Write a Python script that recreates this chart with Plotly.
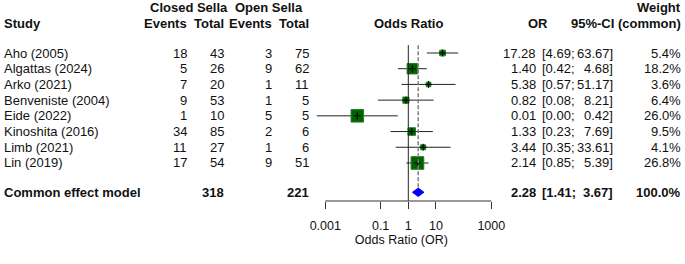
import numpy as np
import plotly.graph_objects as go

# ---------------- data ----------------
studies = ["Aho (2005)", "Algattas (2024)", "Arko (2021)", "Benveniste (2004)",
           "Eide (2022)", "Kinoshita (2016)", "Limb (2021)", "Lin (2019)"]
closed_events = [18, 5, 7, 9, 1, 34, 11, 17]
closed_total = [43, 26, 20, 53, 10, 85, 27, 54]
open_events = [3, 9, 1, 1, 5, 2, 1, 9]
open_total = [75, 62, 11, 5, 5, 6, 6, 51]
odds_ratio = [17.28, 1.40, 5.38, 0.82, 0.01435, 1.33, 3.44, 2.14]
ci_lower = [4.69, 0.42, 0.57, 0.08, 0.000494, 0.23, 0.35, 0.85]
ci_upper = [63.67, 4.68, 51.17, 8.21, 0.417, 7.69, 33.61, 5.39]
weights = [5.4, 18.2, 3.6, 6.4, 26.0, 9.5, 4.1, 26.8]

pooled_label = "Common effect model"
pooled_closed_total = 318
pooled_open_total = 221
pooled_or = 2.28
pooled_lower = 1.41
pooled_upper = 3.67
pooled_weight = 100.0
heterogeneity = "Heterogeneity: <i>I</i><sup>2</sup> = 65.6%, τ<sup>2</sup> = 1.3905, <i>p</i> = 0.0049"

tick_values = [0.001, 0.1, 1, 10, 1000]
tick_labels = ["0.001", "0.1", "1", "10", "1000"]
axis_title = "Odds Ratio (OR)"

# ---------------- layout helpers ----------------
W, H = 685, 264
PX_DEC = 27.67
X_ONE = 408.3
ROW0, ROWH = 53.0, 15.71
AXIS_PX = 201.0
FONT = "Liberation Sans, Arial, sans-serif"
TXT = "#111111"

def px(p):
    return p / W

def row_of(py):
    return (py - ROW0) / ROWH

lo_log, hi_log = -3.6, 3.1
dom_x = [px(X_ONE + lo_log * PX_DEC), px(X_ONE + hi_log * PX_DEC)]
r_top = row_of(0)
r_bot = row_of(AXIS_PX)
dom_y = [1 - AXIS_PX / H, 1]

rows = list(range(len(studies)))
r_pool = row_of(192.3)
r_het = row_of(208)
r_h1 = row_of(7.3)
r_h2 = row_of(23.3)

fig = go.Figure()

# CI lines
for i in rows:
    fig.add_trace(go.Scatter(x=[ci_lower[i], ci_upper[i]], y=[i, i], mode="lines",
                             line=dict(color="#222222", width=1), hoverinfo="skip",
                             showlegend=False))

# squares
sizes = [2.45 * np.sqrt(w) for w in weights]
fig.add_trace(go.Scatter(x=odds_ratio, y=rows, mode="markers",
                         marker=dict(symbol="square", size=sizes, color="#006400",
                                     opacity=1,
                                     line=dict(color="#1f7f1f", width=1)),
                         showlegend=False, hoverinfo="skip"))
fig.add_trace(go.Scatter(x=odds_ratio, y=rows, mode="markers",
                         marker=dict(symbol="cross-thin", size=5, opacity=1,
                                     line=dict(color="#000000", width=1)),
                         showlegend=False, hoverinfo="skip"))

# diamond
dh = 4.2 / ROWH
fig.add_trace(go.Scatter(x=[pooled_lower, pooled_or, pooled_upper, pooled_or, pooled_lower],
                         y=[r_pool, r_pool - dh, r_pool, r_pool + dh, r_pool],
                         mode="lines", fill="toself", fillcolor="#0000ff",
                         line=dict(color="#0000ff", width=1),
                         showlegend=False, hoverinfo="skip"))

shapes = [
    dict(type="line", xref="x", yref="y", x0=1, x1=1, y0=-0.5, y1=r_bot,
         line=dict(color="#222222", width=1)),
    dict(type="line", xref="x", yref="y", x0=pooled_or, x1=pooled_or, y0=-0.5,
         y1=r_pool - dh, line=dict(color="#808080", width=1.5, dash="4px,2px")),
    dict(type="line", xref="x", yref="paper", x0=tick_values[0], x1=tick_values[-1],
         y0=dom_y[0], y1=dom_y[0], line=dict(color="#333333", width=1)),
]

ann = []
def text(x, y, s, anchor="left", size=13, bold=False):
    if bold:
        s = "<b>" + s + "</b>"
    ann.append(dict(x=px(x), y=y, xref="paper", yref="y", text=s, showarrow=False,
                    xanchor=anchor, yanchor="middle",
                    font=dict(family=FONT, size=size, color=TXT)))

# headers
text(2, r_h2, "Study", "left", bold=True)
text(148, r_h1, "Closed Sella", "left", bold=True)
text(189, r_h2, "Events", "right", bold=True)
text(225.5, r_h2, "Total", "right", bold=True)
text(232.5, r_h1, "Open Sella", "left", bold=True)
text(273.5, r_h2, "Events", "right", bold=True)
text(310.5, r_h2, "Total", "right", bold=True)
text(408, r_h2, "Odds Ratio", "center", bold=True)
text(537.5, r_h2, "OR", "center", bold=True)
text(682.5, r_h2, "95%-CI (common)", "right", bold=True)
text(682.5, r_h1, "Weight", "right", bold=True)

for i in rows:
    text(2, i, studies[i], "left")
    text(189.5, i, str(closed_events[i]), "right")
    text(225.5, i, str(closed_total[i]), "right")
    text(273.5, i, str(open_events[i]), "right")
    text(310.5, i, str(open_total[i]), "right")
    text(537.5, i, f"{odds_ratio[i]:.2f}", "right")
    text(539.5, i, f"[{ci_lower[i]:.2f};", "left")
    text(614.5, i, f"{ci_upper[i]:.2f}]", "right")
    text(682.5, i, f"{weights[i]:.1f}%", "right")

text(2, r_pool, pooled_label, "left", bold=True)
text(225.5, r_pool, str(pooled_closed_total), "right", bold=True)
text(310.5, r_pool, str(pooled_open_total), "right", bold=True)
text(537.5, r_pool, f"{pooled_or:.2f}", "right", bold=True)
text(539.5, r_pool, f"[{pooled_lower:.2f};", "left", bold=True)
text(614.5, r_pool, f"{pooled_upper:.2f}]", "right", bold=True)
text(682.5, r_pool, f"{pooled_weight:.1f}%", "right", bold=True)
text(2, r_het, heterogeneity, "left", size=11)

fig.update_layout(
    width=W, height=H, margin=dict(l=0, r=0, t=0, b=0),
    paper_bgcolor="white", plot_bgcolor="white",
    shapes=shapes, annotations=ann, showlegend=False,
    xaxis=dict(type="log", range=[lo_log, hi_log], domain=dom_x,
               showgrid=False, zeroline=False, showline=False,
               tickvals=tick_values, ticktext=tick_labels,
               ticks="outside", ticklen=7, tickwidth=1, tickcolor="#333333",
               ticklabelstandoff=6,
               tickfont=dict(family=FONT, size=12.5, color=TXT),
               title=dict(text=axis_title, standoff=3,
                          font=dict(family=FONT, size=12.5, color=TXT)),
               automargin=False, fixedrange=True),
    yaxis=dict(range=[r_bot, r_top], domain=dom_y, visible=False,
               showgrid=False, zeroline=False, automargin=False, fixedrange=True),
)

fig.write_html("out.html", config={"displayModeBar": False},
               post_script="document.body.style.margin='0';document.body.style.overflow='hidden';")
